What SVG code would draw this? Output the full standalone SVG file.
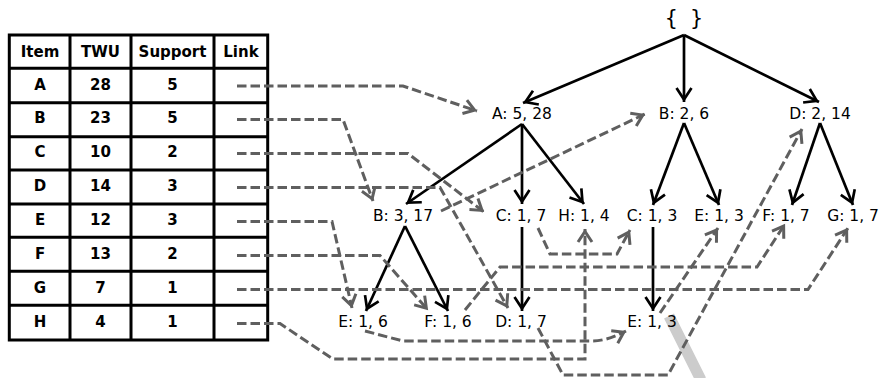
<svg xmlns="http://www.w3.org/2000/svg" width="880" height="378" viewBox="0 0 880 378">
<style>
.tbl{fill:none;stroke:#000;stroke-width:3}
.th{font-family:"DejaVu Sans",sans-serif;font-weight:bold;font-size:15px;text-anchor:middle;fill:#000}
.lbl{font-family:"DejaVu Sans",sans-serif;font-size:15.5px;text-anchor:middle;fill:#000}
.root{font-family:"DejaVu Sans Mono",monospace;font-size:21px;text-anchor:middle;fill:#000}
.solid{fill:none;stroke:#000;stroke-width:2.7;marker-end:url(#ab)}
.dash{fill:none;stroke:#5f5f5f;stroke-width:3;stroke-dasharray:9.5 4;stroke-linejoin:miter;marker-end:url(#ag)}
.mb{fill:none;stroke:#000;stroke-width:2.7;stroke-linejoin:miter}
.mg{fill:none;stroke:#5f5f5f;stroke-width:3;stroke-linejoin:miter;stroke-dasharray:none}
</style>
<defs>
<marker id="ab" markerUnits="userSpaceOnUse" orient="auto" viewBox="-20 -12 24 24" markerWidth="24" markerHeight="24" refX="0" refY="0">
<path class="mb" d="M-14,-7.5 L-2.5,0 L-14,7.5"/>
</marker>
<marker id="ag" markerUnits="userSpaceOnUse" orient="auto" viewBox="-20 -12 24 24" markerWidth="24" markerHeight="24" refX="0" refY="0">
<path class="mg" d="M-13,-7 L-2.5,0 L-13,7"/>
</marker>
</defs>
<rect width="880" height="378" fill="#fff"/>

<g id="table">
<rect x="9.3" y="35" width="258.4" height="305" fill="#fff" class="tbl"/>
<path class="tbl" d="M70,35V340M131,35V340M214,35V340M9.3,68.3H267.7M9.3,102.7H267.7M9.3,136.7H267.7M9.3,170H267.7M9.3,204H267.7M9.3,237.3H267.7M9.3,271.3H267.7M9.3,305.3H267.7"/>
<text class="th" x="40" y="56.5">Item</text>
<text class="th" x="100.5" y="56.5">TWU</text>
<text class="th" x="172.5" y="56.5">Support</text>
<text class="th" x="241" y="56.5">Link</text>
<text class="th" x="40" y="89.5">A</text><text class="th" x="100.5" y="89.5">28</text><text class="th" x="172.5" y="89.5">5</text>
<text class="th" x="40" y="123.4">B</text><text class="th" x="100.5" y="123.4">23</text><text class="th" x="172.5" y="123.4">5</text>
<text class="th" x="40" y="157.3">C</text><text class="th" x="100.5" y="157.3">10</text><text class="th" x="172.5" y="157.3">2</text>
<text class="th" x="40" y="191.2">D</text><text class="th" x="100.5" y="191.2">14</text><text class="th" x="172.5" y="191.2">3</text>
<text class="th" x="40" y="225.1">E</text><text class="th" x="100.5" y="225.1">12</text><text class="th" x="172.5" y="225.1">3</text>
<text class="th" x="40" y="259">F</text><text class="th" x="100.5" y="259">13</text><text class="th" x="172.5" y="259">2</text>
<text class="th" x="40" y="292.9">G</text><text class="th" x="100.5" y="292.9">7</text><text class="th" x="172.5" y="292.9">1</text>
<text class="th" x="40" y="326.8">H</text><text class="th" x="100.5" y="326.8">4</text><text class="th" x="172.5" y="326.8">1</text>
</g>

<line x1="669" y1="316" x2="701" y2="380" stroke="#cccccc" stroke-width="11"/>

<g id="connectors">
<!-- tree edges -->
<path class="solid" d="M684,35 L523,103"/>
<path class="solid" d="M684,35 L684,102"/>
<path class="solid" d="M684,35 L819,102"/>
<path class="solid" d="M522,124 L406,204"/>
<path class="solid" d="M522,124 L522,204"/>
<path class="solid" d="M522,124 L584,204"/>
<path class="solid" d="M684,123 L653,205"/>
<path class="solid" d="M684,123 L719,205"/>
<path class="solid" d="M820,123 L792,205"/>
<path class="solid" d="M820,123 L853,205"/>
<path class="solid" d="M405,226 L366,311"/>
<path class="solid" d="M405,226 L448,311"/>
<path class="solid" d="M522,227 L522,311"/>
<path class="solid" d="M653,227 L653,311"/>
<!-- node links -->
<path class="dash" d="M237,86 L403,86 L477,111"/>
<path class="dash" d="M237,119.5 L343,119.5 L373,201"/>
<path class="dash" d="M441,211 L645,114"/>
<path class="dash" d="M237,153.5 L408,153.5 L484,212"/>
<path class="dash" d="M538,228 L550,254 L617,254 L630,230"/>
<path class="dash" d="M237,187.5 L440,187.5 L508,308"/>
<path class="dash" d="M538,328 L563,375 L668,375 L802,129"/>
<path class="dash" d="M237,221.5 L332,221.5 L352,308"/>
<path class="dash" d="M365,331 L403,341 L592,341 Q607,341 626,331"/>
<path class="dash" d="M660,313 L718,228"/>
<path class="dash" d="M237,255.5 L380,255.5 L428,310"/>
<path class="dash" d="M465,310 L500,267 L757,267 L785,224"/>
<path class="dash" d="M237,289.5 L808,289.5 L848,228"/>
<path class="dash" d="M237,323.5 L280,323.5 L333,359 L585,359 L585,229"/>
</g>

<g id="root"><text class="root" x="684" y="25">{ }</text></g>
<g id="nA"><text class="lbl" x="522" y="119">A: 5, 28</text></g>
<g id="nB1"><text class="lbl" x="684" y="119">B: 2, 6</text></g>
<g id="nD1"><text class="lbl" x="820" y="119">D: 2, 14</text></g>
<g id="nB2"><text class="lbl" x="403" y="220.5">B: 3, 17</text></g>
<g id="nC2"><text class="lbl" x="521" y="220.5">C: 1, 7</text></g>
<g id="nH2"><text class="lbl" x="584" y="220.5">H: 1, 4</text></g>
<g id="nC3"><text class="lbl" x="652" y="220.5">C: 1, 3</text></g>
<g id="nE2"><text class="lbl" x="719" y="220.5">E: 1, 3</text></g>
<g id="nF2"><text class="lbl" x="786" y="220.5">F: 1, 7</text></g>
<g id="nG2"><text class="lbl" x="853" y="220.5">G: 1, 7</text></g>
<g id="nE3"><text class="lbl" x="363" y="327">E: 1, 6</text></g>
<g id="nF3"><text class="lbl" x="448" y="327">F: 1, 6</text></g>
<g id="nD3"><text class="lbl" x="521" y="327">D: 1, 7</text></g>
<g id="nE4"><text class="lbl" x="652" y="327">E: 1, 3</text></g>
</svg>
